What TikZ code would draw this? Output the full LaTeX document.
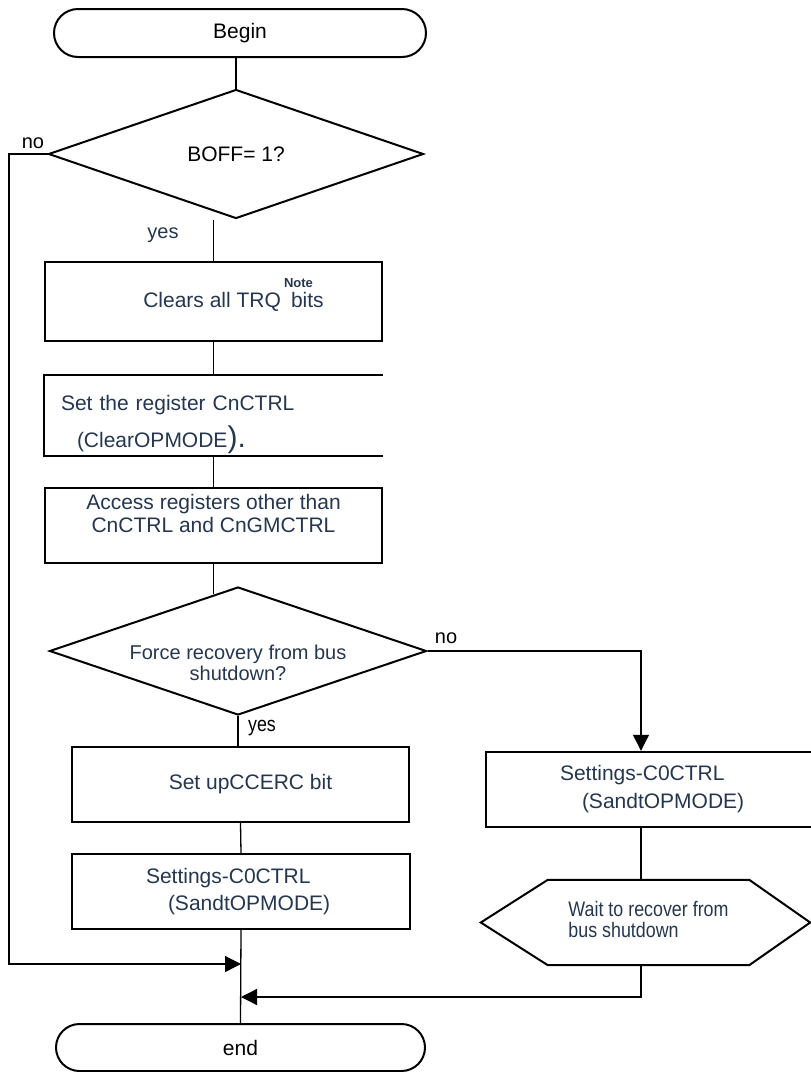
\documentclass[tikz,border=0pt]{standalone}
\usepackage{fontspec}
\setmainfont{Liberation Sans}
\usepackage{graphicx}
\usepackage{xcolor}
\definecolor{txtblue}{RGB}{36,54,80}
\usetikzlibrary{shapes.geometric,shapes.misc,arrows.meta,calc}

\begin{document}
\begin{tikzpicture}[
    x=1pt, y=-1pt,
    base/.style={font=\fontsize{21}{25}\selectfont, inner sep=0pt},
    terminal/.style={base, rounded rectangle, draw, line width=2pt,
                     minimum width=372, minimum height=48},
    decision/.style={base, diamond, draw, line width=2pt, aspect=2.9,
                     minimum width=375, minimum height=129},
    process/.style={base, rectangle, draw, line width=2.4pt, text=txtblue,
                    align=center, minimum width=337, minimum height=77},
    boxtext/.style={font=\fontsize{21}{25}\selectfont, text=txtblue, inner sep=0pt},
    lbl/.style={font=\fontsize{20}{24}\selectfont, inner sep=0pt},
    link/.style={line width=1.3pt},
    arrow/.style={link, -{Triangle[length=16pt,width=16pt]}}
]
\useasboundingbox (0,0) rectangle (811,1072);

\node[terminal] (begin) at (240,33) {Begin};
\node[decision] (q1) at (236,154) {BOFF= 1?};
\node[process, minimum height=79] (trq) at (213.5,301.5)
    {\hspace*{40pt}Clears all TRQ\hspace{3pt}\rlap{\raisebox{20pt}[0pt][0pt]{\fontsize{13}{13}\selectfont\bfseries Note}}\hspace{7pt}bits};
\node[process, draw=none, minimum height=79,
      label={[boxtext, font=\fontsize{21}{37}\selectfont, text width=305, align=left, yshift=-9pt]center:{Set the register CnCTRL\\\hspace*{16pt}(ClearOPMODE{\fontsize{30}{37}\selectfont).}}}]
      (clr) at (213.5,415.5) {};
\node[process, minimum height=75,
      label={[boxtext, font=\fontsize{21}{23}\selectfont, align=center, yshift=12pt]center:{Access registers other than\\CnCTRL and CnGMCTRL}}]
      (acc) at (213.5,525.5) {};
\node[decision, minimum width=377, minimum height=128,
      label={[boxtext, font=\fontsize{20}{20.5}\selectfont, align=center, yshift=-12pt]center:{Force recovery from bus\\shutdown?}}]
      (q2) at (238,651) {};
\node[process, minimum height=75] (setb) at (240.5,784.5) {\hspace*{20pt}Set upCCERC bit};
\node[process, minimum width=338, minimum height=75, font=\fontsize{21}{27}\selectfont,
      text width=190, align=left] (setc) at (241,891.5)
    {Settings-C0CTRL\\\hspace*{22pt}(SandtOPMODE)};
\node[process, minimum width=338, minimum height=75, font=\fontsize{21}{28}\selectfont,
      text width=190, align=left] (s2) at (655,789.5)
    {Settings-C0CTRL\\\hspace*{22pt}(SandtOPMODE)};
\node[base, text=txtblue, font=\fontsize{21}{21}\selectfont,
      minimum width=201, minimum height=85] (wait) at (648.5,922.5)
    {\scalebox{0.85}[1]{\begin{tabular}{@{}l@{}}Wait to recover from\\bus shutdown\end{tabular}}};
\node[terminal, minimum width=369, minimum height=47] (stop) at (240.5,1047.5) {end};

\node[lbl] (no1) at (33,143) {no};
\node[lbl, text=txtblue] (yes1) at (163,235) {yes};
\node[lbl] (no2) at (446,638) {no};
\node[lbl, font=\fontsize{21}{21}\selectfont] (yes2) at (262,728) {\scalebox{0.85}[1]{yes}};

% outlines drawn by hand
\draw[line width=2.4pt] (clr.north east) -- (clr.north west) -- (clr.south west) -- (clr.south east);
\draw[line width=2pt] (wait.north west) -- ($(wait.west)+(-67,0)$) -- (wait.south west)
    -- (wait.south east) -- ($(wait.east)+(61,0)$) -- (wait.north east) -- cycle;

\coordinate (lft) at (9,154);
\coordinate (rcol) at (641,651);
\coordinate (j1) at (241,964);
\coordinate (j2) at (241,997);

\draw[link] (begin.south -| q1.north) -- (q1.north);
\draw[link] (q1.south -| trq.north) -- (trq.north);
\draw[link] (trq.south) -- (clr.north);
\draw[link] (clr.south) -- (acc.north);
\draw[link] (acc.south) -- (acc.south |- q2.113);
\draw[link] (q2.south) -- (q2.south |- setb.north);
\draw[link] (setb.south) -- (setc.north);
\draw[link] (setc.south) -- (stop.north);
\draw[arrow] (q1.west) -- (lft) |- (j1);
\draw[arrow] (q2.east) -| (s2.north -| rcol);
\draw[link] (s2.south -| rcol) -- (wait.north -| rcol);
\draw[arrow] (wait.south -| rcol) |- (j2);
\end{tikzpicture}
\end{document}
